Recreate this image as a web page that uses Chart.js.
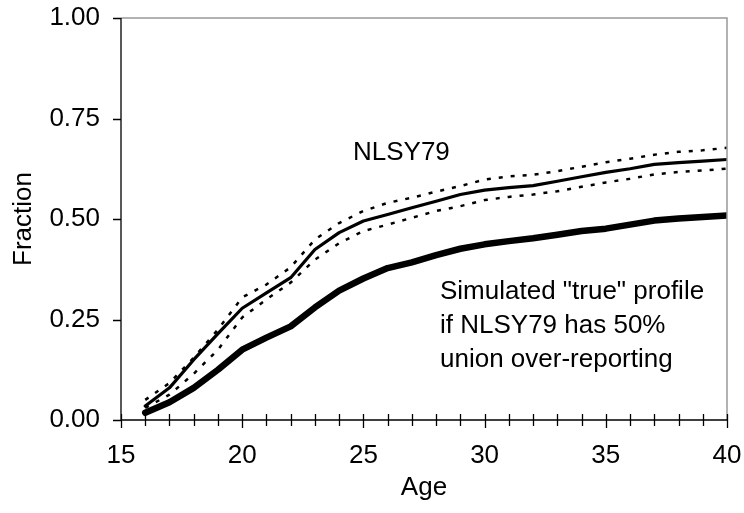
<!DOCTYPE html>
<html>
<head>
<meta charset="utf-8">
<script src="https://cdn.jsdelivr.net/npm/chart.js@4"></script>
<style>
  body { margin: 0; background: #fff; }
  canvas { display: block; }
</style>
</head>
<body>
<canvas id="chart" width="744" height="513"></canvas>
<script>
// values
const ages = [16, 17, 18, 19, 20, 21, 22, 23, 24, 25, 26, 27, 28, 29, 30, 31, 32, 33, 34, 35, 36, 37, 38, 39, 40];
const nlsy = [0.035, 0.08, 0.15, 0.215, 0.278, 0.316, 0.354, 0.424, 0.466, 0.495, 0.511, 0.528, 0.544, 0.561, 0.572,
    0.578, 0.583, 0.594, 0.605, 0.616, 0.625, 0.636, 0.64, 0.644, 0.648];
const nlsyUpper = [0.05, 0.092, 0.155, 0.225, 0.305, 0.337, 0.38, 0.449, 0.49, 0.52, 0.54, 0.553, 0.568, 0.582, 0.598,
    0.606, 0.61, 0.619, 0.63, 0.641, 0.65, 0.66, 0.667, 0.671, 0.677];
const nlsyLower = [0.03, 0.063, 0.115, 0.175, 0.255, 0.3, 0.342, 0.399, 0.44, 0.47, 0.486, 0.503, 0.52, 0.532, 0.547,
    0.555, 0.561, 0.569, 0.58, 0.591, 0.6, 0.611, 0.617, 0.621, 0.625];
const simulated = [0.018, 0.044, 0.08, 0.125, 0.175, 0.205, 0.233, 0.28, 0.322, 0.352, 0.378, 0.392, 0.41, 0.426, 0.437,
    0.445, 0.452, 0.461, 0.47, 0.476, 0.486, 0.496, 0.501, 0.505, 0.509];
const yTicks = [0, 0.25, 0.5, 0.75, 1];
const xTicks = [15, 20, 25, 30, 35, 40];

const FONT = "'Liberation Sans', Arial, sans-serif";
const SIZE = 26;

function points(values) {
    return ages.map((a, i) => ({ x: a, y: values[i] }));
}

function line(values, width, dash) {
    return {
        data: points(values),
        borderColor: "#000",
        borderWidth: width,
        borderDash: dash || [],
        pointRadius: 0,
        tension: 0,
        fill: false,
        borderJoinStyle: "round",
        borderCapStyle: dash ? "butt" : "round"
    };
}

// no extra room for labels sticking out of the plot
function noPadding(scale) {
    scale.paddingTop = 0;
    scale.paddingBottom = 0;
    scale.paddingLeft = 0;
    scale.paddingRight = 0;
}

// frame, tick marks and the two text notes
const decorations = {
    id: "decorations",
    afterDraw(chart) {
        const ctx = chart.ctx;
        const x = chart.scales.x;
        const y = chart.scales.y;
        const a = chart.chartArea;
        ctx.save();

        ctx.strokeStyle = "#999";
        ctx.lineWidth = 1.5;
        ctx.beginPath();
        ctx.moveTo(a.left, a.top);
        ctx.lineTo(a.right, a.top);
        ctx.lineTo(a.right, a.bottom);
        ctx.stroke();

        ctx.strokeStyle = "#000";
        ctx.lineWidth = 1.3;
        ctx.beginPath();
        ctx.moveTo(a.left, a.top);
        ctx.lineTo(a.left, a.bottom);
        ctx.lineTo(a.right, a.bottom);
        for (let v = 15; v <= 40; v++) {
            const px = Math.round(x.getPixelForValue(v)) + 0.5;
            const major = xTicks.includes(v);
            ctx.moveTo(px, a.bottom - 6);
            ctx.lineTo(px, a.bottom + (major ? 8 : 6));
        }
        yTicks.forEach(v => {
            const py = Math.round(y.getPixelForValue(v)) + 0.5;
            ctx.moveTo(a.left - 8, py);
            ctx.lineTo(a.left, py);
        });
        ctx.stroke();

        ctx.fillStyle = "#000";
        ctx.font = SIZE + "px " + FONT;
        ctx.textAlign = "left";
        ctx.textBaseline = "alphabetic";
        ctx.fillText("NLSY79", x.getPixelForValue(24.57), y.getPixelForValue(0.648));
        const note = ["Simulated \"true\" profile", "if NLSY79 has 50%", "union over-reporting"];
        note.forEach((t, i) => {
            ctx.fillText(t, x.getPixelForValue(28.16), y.getPixelForValue(0.2998) + i * 34);
        });
        ctx.restore();
    }
};

new Chart(document.getElementById("chart"), {
    type: "line",
    data: {
        datasets: [
            line(nlsyUpper, 2.5, [4, 8]),
            line(nlsyLower, 2.5, [4, 8]),
            line(nlsy, 3.2),
            line(simulated, 6.5)
        ]
    },
    options: {
        responsive: false,
        animation: false,
        devicePixelRatio: 1,
        layout: { padding: { top: 18, right: 17, left: 0, bottom: 0 } },
        plugins: {
            legend: { display: false },
            tooltip: { enabled: false }
        },
        scales: {
            x: {
                type: "linear",
                min: 15,
                max: 40,
                grid: { display: false, drawTicks: false },
                border: { display: false },
                ticks: {
                    stepSize: 5,
                    autoSkip: false,
                    maxRotation: 0,
                    padding: 20,
                    color: "#000",
                    font: { family: FONT, size: SIZE }
                },
                title: {
                    display: true,
                    text: "Age",
                    color: "#000",
                    padding: { top: 0, bottom: 10 },
                    font: { family: FONT, size: SIZE }
                },
                afterFit(scale) {
                    scale.height = 93;
                    noPadding(scale);
                }
            },
            y: {
                min: 0,
                max: 1,
                grid: { display: false, drawTicks: false },
                border: { display: false },
                afterBuildTicks(scale) { scale.ticks = yTicks.map(v => ({ value: v })); },
                ticks: {
                    padding: 21,
                    color: "#000",
                    font: { family: FONT, size: SIZE },
                    callback: v => v.toFixed(2)
                },
                title: {
                    display: true,
                    text: "Fraction",
                    color: "#000",
                    padding: { top: 8, bottom: 0 },
                    font: { family: FONT, size: SIZE }
                },
                afterFit(scale) {
                    scale.width = 121;
                    noPadding(scale);
                }
            }
        }
    },
    plugins: [decorations]
});
</script>
</body>
</html>
